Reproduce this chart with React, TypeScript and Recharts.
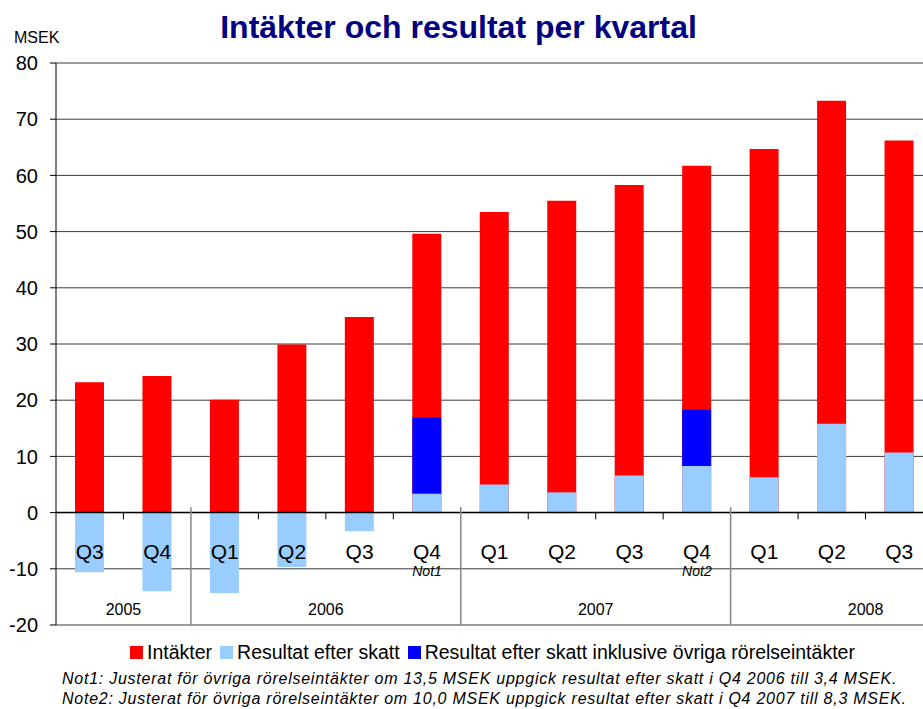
import React from "react";
import {
  Bar,
  BarChart,
  CartesianGrid,
  Legend,
  ReferenceArea,
  ReferenceLine,
  XAxis,
  YAxis,
} from "recharts";

const quarters = ["Q3", "Q4", "Q1", "Q2", "Q3", "Q4", "Q1", "Q2", "Q3", "Q4", "Q1", "Q2", "Q3"];
const quarterNotes = ["", "", "", "", "", "Not1", "", "", "", "Not2", "", "", ""];
const intakter = [23.2, 24.3, 20.1, 29.9, 34.8, 49.6, 53.5, 55.5, 58.3, 61.7, 64.7, 73.3, 66.2];
const resultat = [-10.6, -14.0, -14.3, -9.7, -3.3, 3.4, 5.0, 3.6, 6.6, 8.3, 6.3, 15.8, 10.7];
const ovriga = [null, null, null, null, null, 13.5, null, null, null, 10.0, null, null, null];
// 2008 spans the whole year (Q1-Q4), only Q1-Q3 reported
const yearGroups = [
  { year: "2005", from: 0, to: 2 },
  { year: "2006", from: 2, to: 6 },
  { year: "2007", from: 6, to: 10 },
  { year: "2008", from: 10, to: 14 },
];
const yTicks = [-20, -10, 0, 10, 20, 30, 40, 50, 60, 70, 80];
const legendItems = [
  { name: "Intäkter", color: "#ff0000" },
  { name: "Resultat efter skatt", color: "#99ccff" },
  { name: "Resultat efter skatt inklusive övriga rörelseintäkter", color: "#0000ff" },
];
const footNotes = [
  "Not1: Justerat för övriga rörelseintäkter om 13,5 MSEK uppgick resultat efter skatt i Q4 2006 till 3,4 MSEK.",
  "Note2: Justerat för övriga rörelseintäkter om 10,0 MSEK uppgick resultat efter skatt i Q4 2007 till 8,3 MSEK.",
];

const FONT = '"Liberation Sans", Arial, sans-serif';

const data = quarters.map((q, i) => ({
  x: i + 0.5,
  quarter: q,
  note: quarterNotes[i],
  intakter: intakter[i],
  resultat: resultat[i],
  ovriga: ovriga[i],
}));

// category boundaries without a year separator get a small tick on the zero line
const separators = yearGroups.slice(1).map((g) => g.from);
const smallTicks = quarters
  .map((_, i) => i + 1)
  .filter((b) => b < quarters.length && !separators.includes(b));

const QuarterTick = (props: any) => {
  const { x, y, payload } = props;
  const idx = Math.floor(payload.value);
  return (
    <g>
      <text x={x} y={y - 74} textAnchor="middle" fontSize={21} fontFamily={FONT} fill="#000">
        {quarters[idx]}
      </text>
      {quarterNotes[idx] && (
        <text x={x} y={y - 57} textAnchor="middle" fontSize={14} fontStyle="italic" fontFamily={FONT} fill="#000">
          {quarterNotes[idx]}
        </text>
      )}
    </g>
  );
};

const LegendBlock = () => (
  <div style={{ height: 83, width: 923, fontFamily: FONT, boxSizing: "border-box" }}>
    <div style={{ display: "flex", alignItems: "center", paddingLeft: 130, paddingTop: 15, height: 22 }}>
      {legendItems.map((it) => (
        <div key={it.name} style={{ display: "flex", alignItems: "center", marginRight: 8 }}>
          <div style={{ width: 13, height: 13, background: it.color, marginRight: 4 }} />
          <span style={{ fontSize: 19.5, color: "#000" }}>{it.name}</span>
        </div>
      ))}
    </div>
    <div
      style={{
        paddingLeft: 62,
        fontSize: 16,
        fontStyle: "italic",
        lineHeight: "20px",
        marginTop: 6,
        letterSpacing: 0.75,
        whiteSpace: "nowrap",
      }}
    >
      {footNotes.map((n) => (
        <div key={n}>{n}</div>
      ))}
    </div>
  </div>
);

export default function App() {
  return (
    <div
      style={{
        position: "absolute",
        left: 0,
        top: 0,
        width: 923,
        height: 709,
        overflow: "hidden",
        background: "#fff",
        fontFamily: FONT,
      }}
    >
      <div
        style={{
          position: "absolute",
          left: 0,
          width: 917,
          top: 11,
          lineHeight: "32px",
          textAlign: "center",
          fontSize: 32,
          fontWeight: "bold",
          color: "#000080",
          zIndex: 2,
        }}
      >
        Intäkter och resultat per kvartal
      </div>
      <div style={{ position: "absolute", left: 14, top: 29, fontSize: 16, zIndex: 2 }}>MSEK</div>
      <BarChart
        width={942}
        height={709}
        data={data}
        margin={{ top: 63, right: 9, left: 0, bottom: 0 }}
      >
        <CartesianGrid vertical={false} stroke="#3a3a3a" />
        <XAxis
          xAxisId="a"
          type="number"
          dataKey="x"
          domain={[0, quarters.length]}
          ticks={data.map((d) => d.x)}
          tick={<QuarterTick />}
          axisLine={false}
          tickLine={false}
          height={1}
          interval={0}
        />
        <XAxis xAxisId="b" type="number" dataKey="x" domain={[0, quarters.length]} hide />
        <YAxis
          domain={[-20, 80]}
          ticks={yTicks}
          interval={0}
          width={56}
          tickSize={6}
          tickMargin={12}
          stroke="#000"
          tick={{ fill: "#000", fontSize: 20, fontFamily: FONT }}
        />
        {yearGroups.map((g) => (
          <ReferenceArea
            key={g.year}
            xAxisId="a"
            x1={g.from}
            x2={g.to}
            y1={-20}
            y2={-10}
            fill="none"
            stroke="none"
            ifOverflow="visible"
            label={{ value: g.year, position: "insideBottom", offset: 10, fontSize: 16, fill: "#000", fontFamily: FONT }}
          />
        ))}
        <Bar xAxisId="a" dataKey="intakter" fill="#ff0000" barSize={29} isAnimationActive={false} />
        <Bar xAxisId="b" dataKey="resultat" stackId="r" fill="#99ccff" barSize={29} isAnimationActive={false} />
        <Bar xAxisId="b" dataKey="ovriga" stackId="r" fill="#0000ff" barSize={29} isAnimationActive={false} />
        <ReferenceLine xAxisId="a" y={0} stroke="#000" strokeWidth={1.5} />
        {separators.map((s) => (
          <ReferenceLine
            key={`sep-${s}`}
            xAxisId="a"
            segment={[
              { x: s, y: -20 },
              { x: s, y: 1 },
            ]}
            stroke="#888"
            strokeWidth={1.5}
          />
        ))}
        {smallTicks.map((b) => (
          <ReferenceLine
            key={`tick-${b}`}
            xAxisId="a"
            segment={[
              { x: b, y: 0 },
              { x: b, y: -1.2 },
            ]}
            stroke="#000"
          />
        ))}
        <Legend verticalAlign="bottom" content={<LegendBlock />} wrapperStyle={{ left: 0, width: 923 }} />
      </BarChart>
    </div>
  );
}
